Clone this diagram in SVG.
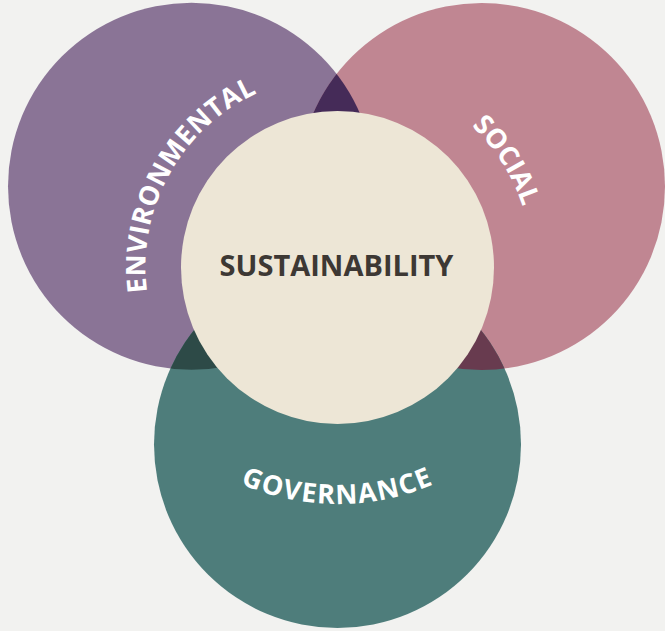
<svg xmlns="http://www.w3.org/2000/svg" width="665" height="631" viewBox="0 0 665 631">
<style>
.arc{font-family:"Open Sans","Liberation Sans",sans-serif;font-weight:700;fill:#ffffff;}
.title{font-family:"Open Sans","Liberation Sans",sans-serif;font-weight:700;fill:#3d3834;font-size:29px;}
</style>
<defs>
<clipPath id="clipEnv"><circle cx="191.5" cy="186.2" r="183.5"/></clipPath>
<clipPath id="clipSoc"><circle cx="481.5" cy="186.5" r="183.5"/></clipPath>
<path id="pEnv" d="M171.2,363.5 A192,192 0 0 1 330.8,75.6" fill="none"/>
<path id="pSoc" d="M396.5,81.6 A195,195 0 0 1 530.8,293.3" fill="none"/>
<path id="pGov" d="M150.6,416.8 A244,244 0 0 0 524.4,416.8" fill="none"/>
</defs>
<rect width="665" height="631" fill="#f2f2f0"/>
<g id="environmental"><circle cx="191.5" cy="186.2" r="183.5" fill="#8a7496"/></g>
<g id="social"><circle cx="481.5" cy="186.5" r="183.5" fill="#c08692"/></g>
<g id="governance"><circle cx="337.5" cy="444.5" r="183.5" fill="#4e7d7b"/></g>
<g id="overlaps">
<circle cx="481.5" cy="186.5" r="183.5" fill="#452b58" clip-path="url(#clipEnv)"/>
<circle cx="337.5" cy="444.5" r="183.5" fill="#2d4a47" clip-path="url(#clipEnv)"/>
<circle cx="337.5" cy="444.5" r="183.5" fill="#683b4f" clip-path="url(#clipSoc)"/>
</g>
<g id="sustainability">
<circle cx="337.5" cy="267.5" r="156.5" fill="#ede6d6"/>
<text class="title" x="336.5" y="275.5" text-anchor="middle">SUSTAINABILITY</text>
</g>
<g id="labels">
<text class="arc" font-size="27" letter-spacing="0.5"><textPath href="#pEnv" startOffset="50%" text-anchor="middle">ENVIRONMENTAL</textPath></text>
<text class="arc" font-size="27"><textPath href="#pSoc" startOffset="50%" text-anchor="middle">SOCIAL</textPath></text>
<text class="arc" font-size="27" letter-spacing="1.3"><textPath href="#pGov" startOffset="50%" text-anchor="middle">GOVERNANCE</textPath></text>
</g>
</svg>
